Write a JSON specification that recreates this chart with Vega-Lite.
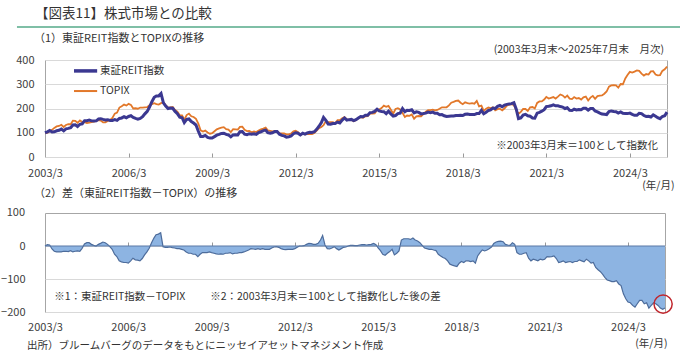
{
  "$schema": "https://vega.github.io/schema/vega-lite/v6.json",
  "background": "white",
  "padding": {"left": 0, "top": 6, "right": 0, "bottom": 0},
  "config": {
    "font": "Noto Sans CJK JP",
    "view": {"stroke": "#a6a6a6"},
    "axis": {"labelFont": "Noto Sans CJK JP", "labelFontSize": 11, "labelColor": "#404040", "titleFont": "Noto Sans CJK JP", "titleFontWeight": "normal", "labelOverlap": false},
    "title": {"font": "Noto Sans CJK JP", "fontWeight": "normal", "color": "#333333"},
    "text": {"font": "Noto Sans CJK JP"}
  },
  "title": {"text": "出所）ブルームバーグのデータをもとにニッセイアセットマネジメント作成", "orient": "bottom", "anchor": "start", "frame": "bounds", "fontSize": 10.5, "offset": -8, "dx": 27, "color": "#333333"},
  "datasets": {
    "idx": [
      {"d":"2003-03","r":100,"t":100,"f":0},{"d":"2003-04","r":104,"t":100,"f":4},{"d":"2003-05","r":109,"t":106,"f":3},{"d":"2003-06","r":103,"t":112,"f":-9},{"d":"2003-07","r":104,"t":120,"f":-16},{"d":"2003-08","r":108,"t":126,"f":-18},{"d":"2003-09","r":110,"t":128,"f":-18},{"d":"2003-10","r":115,"t":133,"f":-18},{"d":"2003-11","r":108,"t":124,"f":-16},{"d":"2003-12","r":116,"t":132,"f":-16},
      {"d":"2004-01","r":118,"t":135,"f":-17},{"d":"2004-02","r":121,"t":135,"f":-14},{"d":"2004-03","r":132,"t":150,"f":-18},{"d":"2004-04","r":133,"t":149,"f":-16},{"d":"2004-05","r":126,"t":141,"f":-15},{"d":"2004-06","r":135,"t":151,"f":-16},{"d":"2004-07","r":137,"t":144,"f":-7},{"d":"2004-08","r":150,"t":144,"f":6},{"d":"2004-09","r":150,"t":140,"f":10},{"d":"2004-10","r":152,"t":142,"f":10},{"d":"2004-11","r":149,"t":144,"f":5},{"d":"2004-12","r":148,"t":146,"f":2},
      {"d":"2005-01","r":149,"t":149,"f":0},{"d":"2005-02","r":157,"t":152,"f":5},{"d":"2005-03","r":158,"t":150,"f":8},{"d":"2005-04","r":155,"t":143,"f":12},{"d":"2005-05","r":153,"t":143,"f":10},{"d":"2005-06","r":154,"t":149,"f":5},{"d":"2005-07","r":151,"t":153,"f":-2},{"d":"2005-08","r":151,"t":161,"f":-10},{"d":"2005-09","r":154,"t":179,"f":-25},{"d":"2005-10","r":151,"t":183,"f":-32},{"d":"2005-11","r":159,"t":204,"f":-45},{"d":"2005-12","r":161,"t":209,"f":-48},
      {"d":"2006-01","r":166,"t":216,"f":-50},{"d":"2006-02","r":162,"t":212,"f":-50},{"d":"2006-03","r":167,"t":219,"f":-52},{"d":"2006-04","r":170,"t":215,"f":-45},{"d":"2006-05","r":163,"t":200,"f":-37},{"d":"2006-06","r":159,"t":201,"f":-42},{"d":"2006-07","r":156,"t":199,"f":-43},{"d":"2006-08","r":159,"t":204,"f":-45},{"d":"2006-09","r":166,"t":204,"f":-38},{"d":"2006-10","r":178,"t":205,"f":-27},{"d":"2006-11","r":188,"t":206,"f":-18},{"d":"2006-12","r":206,"t":213,"f":-7},
      {"d":"2007-01","r":228,"t":218,"f":10},{"d":"2007-02","r":246,"t":222,"f":24},{"d":"2007-03","r":252,"t":218,"f":34},{"d":"2007-04","r":252,"t":216,"f":36},{"d":"2007-05","r":262,"t":222,"f":40},{"d":"2007-06","r":223,"t":225,"f":-2},{"d":"2007-07","r":210,"t":214,"f":-4},{"d":"2007-08","r":200,"t":204,"f":-4},{"d":"2007-09","r":202,"t":205,"f":-3},{"d":"2007-10","r":201,"t":206,"f":-5},{"d":"2007-11","r":188,"t":194,"f":-6},{"d":"2007-12","r":179,"t":187,"f":-8},
      {"d":"2008-01","r":164,"t":172,"f":-8},{"d":"2008-02","r":162,"t":172,"f":-10},{"d":"2008-03","r":142,"t":154,"f":-12},{"d":"2008-04","r":155,"t":173,"f":-18},{"d":"2008-05","r":157,"t":179,"f":-22},{"d":"2008-06","r":146,"t":168,"f":-22},{"d":"2008-07","r":140,"t":165,"f":-25},{"d":"2008-08","r":132,"t":157,"f":-25},{"d":"2008-09","r":106,"t":138,"f":-32},{"d":"2008-10","r":85,"t":110,"f":-25},{"d":"2008-11","r":85,"t":105,"f":-20},{"d":"2008-12","r":89,"t":109,"f":-20},
      {"d":"2009-01","r":81,"t":101,"f":-20},{"d":"2009-02","r":78,"t":96,"f":-18},{"d":"2009-03","r":78,"t":98,"f":-20},{"d":"2009-04","r":84,"t":106,"f":-22},{"d":"2009-05","r":90,"t":114,"f":-24},{"d":"2009-06","r":93,"t":118,"f":-25},{"d":"2009-07","r":97,"t":121,"f":-24},{"d":"2009-08","r":98,"t":123,"f":-25},{"d":"2009-09","r":93,"t":115,"f":-22},{"d":"2009-10","r":91,"t":113,"f":-22},{"d":"2009-11","r":83,"t":103,"f":-20},{"d":"2009-12","r":91,"t":115,"f":-24},
      {"d":"2010-01","r":92,"t":114,"f":-22},{"d":"2010-02","r":91,"t":113,"f":-22},{"d":"2010-03","r":104,"t":124,"f":-20},{"d":"2010-04","r":105,"t":125,"f":-20},{"d":"2010-05","r":94,"t":112,"f":-18},{"d":"2010-06","r":92,"t":107,"f":-15},{"d":"2010-07","r":96,"t":108,"f":-12},{"d":"2010-08","r":94,"t":102,"f":-8},{"d":"2010-09","r":96,"t":105,"f":-9},{"d":"2010-10","r":93,"t":103,"f":-10},{"d":"2010-11","r":101,"t":109,"f":-8},{"d":"2010-12","r":104,"t":114,"f":-10},
      {"d":"2011-01","r":109,"t":117,"f":-8},{"d":"2011-02","r":111,"t":121,"f":-10},{"d":"2011-03","r":100,"t":110,"f":-10},{"d":"2011-04","r":98,"t":108,"f":-10},{"d":"2011-05","r":100,"t":106,"f":-6},{"d":"2011-06","r":105,"t":108,"f":-3},{"d":"2011-07","r":105,"t":107,"f":-2},{"d":"2011-08","r":94,"t":98,"f":-4},{"d":"2011-09","r":89,"t":97,"f":-8},{"d":"2011-10","r":87,"t":97,"f":-10},{"d":"2011-11","r":82,"t":93,"f":-11},{"d":"2011-12","r":83,"t":93,"f":-10},
      {"d":"2012-01","r":87,"t":97,"f":-10},{"d":"2012-02","r":96,"t":106,"f":-10},{"d":"2012-03","r":100,"t":108,"f":-8},{"d":"2012-04","r":98,"t":102,"f":-4},{"d":"2012-05","r":91,"t":91,"f":0},{"d":"2012-06","r":98,"t":98,"f":0},{"d":"2012-07","r":94,"t":93,"f":1},{"d":"2012-08","r":99,"t":94,"f":5},{"d":"2012-09","r":102,"t":94,"f":8},{"d":"2012-10","r":101,"t":94,"f":7},{"d":"2012-11","r":104,"t":99,"f":5},{"d":"2012-12","r":114,"t":109,"f":5},
      {"d":"2013-01","r":127,"t":119,"f":8},{"d":"2013-02","r":142,"t":124,"f":18},{"d":"2013-03","r":163,"t":131,"f":32},{"d":"2013-04","r":151,"t":148,"f":3},{"d":"2013-05","r":136,"t":144,"f":-8},{"d":"2013-06","r":135,"t":144,"f":-9},{"d":"2013-07","r":138,"t":144,"f":-6},{"d":"2013-08","r":138,"t":140,"f":-2},{"d":"2013-09","r":144,"t":152,"f":-8},{"d":"2013-10","r":140,"t":152,"f":-12},{"d":"2013-11","r":152,"t":160,"f":-8},{"d":"2013-12","r":161,"t":165,"f":-4},
      {"d":"2014-01","r":152,"t":155,"f":-3},{"d":"2014-02","r":154,"t":154,"f":0},{"d":"2014-03","r":155,"t":153,"f":2},{"d":"2014-04","r":150,"t":148,"f":2},{"d":"2014-05","r":154,"t":153,"f":1},{"d":"2014-06","r":161,"t":160,"f":1},{"d":"2014-07","r":167,"t":164,"f":3},{"d":"2014-08","r":166,"t":162,"f":4},{"d":"2014-09","r":172,"t":168,"f":4},{"d":"2014-10","r":172,"t":169,"f":3},{"d":"2014-11","r":183,"t":179,"f":4},{"d":"2014-12","r":184,"t":179,"f":5},
      {"d":"2015-01","r":188,"t":180,"f":8},{"d":"2015-02","r":197,"t":193,"f":4},{"d":"2015-03","r":190,"t":196,"f":-6},{"d":"2015-04","r":188,"t":202,"f":-14},{"d":"2015-05","r":187,"t":212,"f":-25},{"d":"2015-06","r":179,"t":207,"f":-28},{"d":"2015-07","r":189,"t":211,"f":-22},{"d":"2015-08","r":178,"t":195,"f":-17},{"d":"2015-09","r":169,"t":179,"f":-10},{"d":"2015-10","r":171,"t":198,"f":-27},{"d":"2015-11","r":179,"t":201,"f":-22},{"d":"2015-12","r":181,"t":196,"f":-15},
      {"d":"2016-01","r":200,"t":182,"f":18},{"d":"2016-02","r":187,"t":165,"f":22},{"d":"2016-03","r":193,"t":171,"f":22},{"d":"2016-04","r":192,"t":170,"f":22},{"d":"2016-05","r":195,"t":175,"f":20},{"d":"2016-06","r":182,"t":158,"f":24},{"d":"2016-07","r":186,"t":168,"f":18},{"d":"2016-08","r":184,"t":169,"f":15},{"d":"2016-09","r":178,"t":168,"f":10},{"d":"2016-10","r":179,"t":177,"f":2},{"d":"2016-11","r":181,"t":187,"f":-6},{"d":"2016-12","r":185,"t":193,"f":-8},
      {"d":"2017-01","r":183,"t":193,"f":-10},{"d":"2017-02","r":185,"t":195,"f":-10},{"d":"2017-03","r":180,"t":192,"f":-12},{"d":"2017-04","r":180,"t":194,"f":-14},{"d":"2017-05","r":174,"t":199,"f":-25},{"d":"2017-06","r":175,"t":205,"f":-30},{"d":"2017-07","r":170,"t":205,"f":-35},{"d":"2017-08","r":167,"t":205,"f":-38},{"d":"2017-09","r":168,"t":213,"f":-45},{"d":"2017-10","r":169,"t":224,"f":-55},{"d":"2017-11","r":169,"t":227,"f":-58},{"d":"2017-12","r":171,"t":231,"f":-60},
      {"d":"2018-01","r":171,"t":233,"f":-62},{"d":"2018-02","r":172,"t":224,"f":-52},{"d":"2018-03","r":171,"t":218,"f":-47},{"d":"2018-04","r":176,"t":226,"f":-50},{"d":"2018-05","r":177,"t":222,"f":-45},{"d":"2018-06","r":175,"t":220,"f":-45},{"d":"2018-07","r":175,"t":222,"f":-47},{"d":"2018-08","r":175,"t":220,"f":-45},{"d":"2018-09","r":179,"t":231,"f":-52},{"d":"2018-10","r":179,"t":209,"f":-30},{"d":"2018-11","r":192,"t":212,"f":-20},{"d":"2018-12","r":178,"t":190,"f":-12},
      {"d":"2019-01","r":184,"t":199,"f":-15},{"d":"2019-02","r":192,"t":204,"f":-12},{"d":"2019-03","r":194,"t":202,"f":-8},{"d":"2019-04","r":202,"t":205,"f":-3},{"d":"2019-05","r":200,"t":192,"f":8},{"d":"2019-06","r":209,"t":197,"f":12},{"d":"2019-07","r":213,"t":199,"f":14},{"d":"2019-08","r":207,"t":192,"f":15},{"d":"2019-09","r":214,"t":201,"f":13},{"d":"2019-10","r":217,"t":212,"f":5},{"d":"2019-11","r":219,"t":216,"f":3},{"d":"2019-12","r":220,"t":218,"f":2},
      {"d":"2020-01","r":224,"t":214,"f":10},{"d":"2020-02","r":197,"t":192,"f":5},{"d":"2020-03","r":158,"t":178,"f":-20},{"d":"2020-04","r":161,"t":186,"f":-25},{"d":"2020-05","r":173,"t":198,"f":-25},{"d":"2020-06","r":176,"t":198,"f":-22},{"d":"2020-07","r":170,"t":190,"f":-20},{"d":"2020-08","r":168,"t":205,"f":-37},{"d":"2020-09","r":161,"t":206,"f":-45},{"d":"2020-10","r":160,"t":200,"f":-40},{"d":"2020-11","r":181,"t":223,"f":-42},{"d":"2020-12","r":184,"t":229,"f":-45},
      {"d":"2021-01","r":189,"t":229,"f":-40},{"d":"2021-02","r":195,"t":237,"f":-42},{"d":"2021-03","r":208,"t":248,"f":-40},{"d":"2021-04","r":209,"t":241,"f":-32},{"d":"2021-05","r":211,"t":244,"f":-33},{"d":"2021-06","r":215,"t":247,"f":-32},{"d":"2021-07","r":211,"t":241,"f":-30},{"d":"2021-08","r":211,"t":249,"f":-38},{"d":"2021-09","r":208,"t":258,"f":-50},{"d":"2021-10","r":206,"t":254,"f":-48},{"d":"2021-11","r":200,"t":245,"f":-45},{"d":"2021-12","r":203,"t":253,"f":-50},
      {"d":"2022-01","r":193,"t":241,"f":-48},{"d":"2022-02","r":192,"t":239,"f":-47},{"d":"2022-03","r":197,"t":247,"f":-50},{"d":"2022-04","r":194,"t":241,"f":-47},{"d":"2022-05","r":196,"t":243,"f":-47},{"d":"2022-06","r":195,"t":237,"f":-42},{"d":"2022-07","r":201,"t":246,"f":-45},{"d":"2022-08","r":201,"t":249,"f":-48},{"d":"2022-09","r":193,"t":233,"f":-40},{"d":"2022-10","r":200,"t":245,"f":-45},{"d":"2022-11","r":200,"t":252,"f":-52},{"d":"2022-12","r":190,"t":240,"f":-50},
      {"d":"2023-01","r":186,"t":251,"f":-65},{"d":"2023-02","r":181,"t":253,"f":-72},{"d":"2023-03","r":177,"t":254,"f":-77},{"d":"2023-04","r":176,"t":261,"f":-85},{"d":"2023-05","r":175,"t":270,"f":-95},{"d":"2023-06","r":187,"t":290,"f":-103},{"d":"2023-07","r":190,"t":295,"f":-105},{"d":"2023-08","r":188,"t":296,"f":-108},{"d":"2023-09","r":187,"t":295,"f":-108},{"d":"2023-10","r":181,"t":286,"f":-105},{"d":"2023-11","r":186,"t":301,"f":-115},{"d":"2023-12","r":180,"t":300,"f":-120},
      {"d":"2024-01","r":179,"t":324,"f":-145},{"d":"2024-02","r":179,"t":339,"f":-160},{"d":"2024-03","r":181,"t":351,"f":-170},{"d":"2024-04","r":176,"t":348,"f":-172},{"d":"2024-05","r":172,"t":352,"f":-180},{"d":"2024-06","r":172,"t":357,"f":-185},{"d":"2024-07","r":180,"t":355,"f":-175},{"d":"2024-08","r":179,"t":344,"f":-165},{"d":"2024-09","r":171,"t":336,"f":-165},{"d":"2024-10","r":167,"t":342,"f":-175},{"d":"2024-11","r":168,"t":340,"f":-172},{"d":"2024-12","r":165,"t":353,"f":-188},
      {"d":"2025-01","r":174,"t":354,"f":-180},{"d":"2025-02","r":168,"t":340,"f":-172},{"d":"2025-03","r":162,"t":337,"f":-175},{"d":"2025-04","r":158,"t":338,"f":-180},{"d":"2025-05","r":167,"t":355,"f":-188},{"d":"2025-06","r":170,"t":362,"f":-192},{"d":"2025-07","r":185,"t":373,"f":-188}
    ]
  },
  "spacing": -4,
  "vconcat": [
    {
      "width": 637,
      "height": 9,
      "data": {"values": [{}]},
      "view": {"stroke": null},
      "title": {"text": "【図表11】株式市場との比較", "anchor": "start", "frame": "group", "fontSize": 13.5, "dx": -10, "offset": 6, "color": "#333333"},
      "mark": {"type": "rule", "color": "#7fbfa6", "strokeWidth": 2, "clip": false},
      "encoding": {
        "x": {"datum": -0.044, "type": "quantitative", "scale": {"domain": [0, 1]}, "axis": null},
        "x2": {"datum": 1},
        "y": {"datum": 1, "type": "quantitative", "scale": {"domain": [0, 1]}, "axis": null}
      }
    },
    {
      "width": 622,
      "height": 97,
      "title": {"text": "（1）東証REIT指数とTOPIXの推移", "anchor": "start", "frame": "group", "fontSize": 11, "dx": -11, "offset": 1, "color": "#333333"},
      "layer": [
        {
          "data": {"name": "idx"},
          "transform": [{"fold": ["t", "r"], "as": ["s", "v"]}],
          "mark": {"type": "line"},
          "encoding": {
            "x": {"field": "d", "type": "temporal",
              "scale": {"type": "utc", "domain": [{"year": 2003, "month": 3, "date": 1, "utc": true}, {"year": 2025, "month": 7, "date": 1, "utc": true}]},
              "axis": {"orient": "bottom", "values": [{"year": 2003, "month": 3, "date": 1, "utc": true}, {"year": 2006, "month": 3, "date": 1, "utc": true}, {"year": 2009, "month": 3, "date": 1, "utc": true}, {"year": 2012, "month": 3, "date": 1, "utc": true}, {"year": 2015, "month": 3, "date": 1, "utc": true}, {"year": 2018, "month": 3, "date": 1, "utc": true}, {"year": 2021, "month": 3, "date": 1, "utc": true}, {"year": 2024, "month": 3, "date": 1, "utc": true}],
                "tickCount": 20, "labelExpr": "utcFormat(datum.value, '%Y') + '/' + (utcmonth(datum.value) + 1)", "ticks": false, "grid": false, "domain": false, "labelPadding": 10, "labelFlush": false, "labelOverlap": false,
                "title": "(年/月)", "titleFontSize": 10.5, "titleColor": "#333333", "titleAlign": "right", "titleX": 629, "titleY": 28, "titleBaseline": "middle"}},
            "y": {"field": "v", "type": "quantitative", "scale": {"domain": [0, 400], "nice": false},
              "axis": {"values": [0, 100, 200, 300, 400], "tickCount": 10, "grid": true, "gridColor": "#d9d9d9", "domain": false, "ticks": false, "labelPadding": 11, "labelOverlap": false, "title": null, "minExtent": 43, "maxExtent": 43}},
            "color": {"field": "s", "type": "nominal", "scale": {"domain": ["r", "t"], "range": ["#3b3891", "#e2782a"]}, "legend": null},
            "strokeWidth": {"field": "s", "type": "nominal", "scale": {"domain": ["r", "t"], "range": [3, 1.8]}, "legend": null}
          }
        },
        {
          "data": {"values": [{}]},
          "mark": {"type": "rule", "color": "#3b3891", "strokeWidth": 3.5},
          "encoding": {
            "x": {"datum": {"year": 2004, "month": 3, "date": 15, "utc": true}, "type": "temporal", "axis": null},
            "x2": {"datum": {"year": 2005, "month": 1, "date": 13, "utc": true}},
            "y": {"datum": 355, "type": "quantitative", "axis": {"title": null}}
          }
        },
        {
          "data": {"values": [{}]},
          "mark": {"type": "rule", "color": "#e2782a", "strokeWidth": 2},
          "encoding": {
            "x": {"datum": {"year": 2004, "month": 3, "date": 15, "utc": true}, "type": "temporal", "axis": null},
            "x2": {"datum": {"year": 2005, "month": 1, "date": 13, "utc": true}},
            "y": {"datum": 272, "type": "quantitative", "axis": {"title": null}}
          }
        },
        {
          "data": {"values": [{}]},
          "mark": {"type": "text", "align": "left", "baseline": "middle", "fontSize": 10.5, "color": "#333333"},
          "encoding": {
            "x": {"datum": {"year": 2005, "month": 2, "date": 20, "utc": true}, "type": "temporal", "axis": null},
            "y": {"datum": 355, "type": "quantitative", "axis": {"title": null}},
            "text": {"value": "東証REIT指数"}
          }
        },
        {
          "data": {"values": [{}]},
          "mark": {"type": "text", "align": "left", "baseline": "middle", "fontSize": 10.5, "color": "#333333"},
          "encoding": {
            "x": {"datum": {"year": 2005, "month": 2, "date": 20, "utc": true}, "type": "temporal", "axis": null},
            "y": {"datum": 272, "type": "quantitative", "axis": {"title": null}},
            "text": {"value": "TOPIX"}
          }
        },
        {
          "data": {"values": [{}]},
          "mark": {"type": "text", "align": "right", "baseline": "middle", "dx": -9, "fontSize": 10.5, "color": "#333333"},
          "encoding": {
            "x": {"datum": {"year": 2025, "month": 7, "date": 1, "utc": true}, "type": "temporal",
              "axis": {"orient": "top", "offset": -97, "values": [{"year": 2006, "month": 3, "date": 1, "utc": true}, {"year": 2009, "month": 3, "date": 1, "utc": true}, {"year": 2012, "month": 3, "date": 1, "utc": true}, {"year": 2015, "month": 3, "date": 1, "utc": true}, {"year": 2018, "month": 3, "date": 1, "utc": true}, {"year": 2021, "month": 3, "date": 1, "utc": true}, {"year": 2024, "month": 3, "date": 1, "utc": true}],
                "tickCount": 20, "labels": false, "ticks": true, "tickSize": 4, "tickColor": "#999999", "domain": false, "grid": false, "title": null, "minExtent": 0, "maxExtent": 0}},
            "y": {"datum": 45, "type": "quantitative", "axis": {"title": null}},
            "text": {"value": "※2003年3月末＝100として指数化"}
          }
        },
        {
          "data": {"values": [{}]},
          "mark": {"type": "text", "align": "right", "baseline": "middle", "dx": -3, "dy": -10, "fontSize": 10.5, "color": "#333333"},
          "encoding": {
            "x": {"datum": {"year": 2025, "month": 7, "date": 1, "utc": true}, "type": "temporal", "axis": null},
            "y": {"datum": 400, "type": "quantitative", "axis": {"title": null}},
            "text": {"value": "(2003年3月末～2025年7月末　月次)"}
          }
        }
      ],
      "resolve": {"axis": {"x": "independent"}}
    },
    {
      "width": 620,
      "height": 99,
      "title": {"text": "（2）差（東証REIT指数－TOPIX）の推移", "anchor": "start", "frame": "group", "fontSize": 11, "dx": -11, "offset": 8, "color": "#333333"},
      "layer": [
        {
          "data": {"name": "idx"},
          "mark": {"type": "area", "color": "#8db4e2", "opacity": 1, "line": {"color": "#4d6c9b", "strokeWidth": 1.2}},
          "encoding": {
            "x": {"field": "d", "type": "temporal",
              "scale": {"type": "utc", "domain": [{"year": 2003, "month": 3, "date": 1, "utc": true}, {"year": 2025, "month": 7, "date": 1, "utc": true}]},
              "axis": {"orient": "bottom", "values": [{"year": 2003, "month": 3, "date": 1, "utc": true}, {"year": 2006, "month": 3, "date": 1, "utc": true}, {"year": 2009, "month": 3, "date": 1, "utc": true}, {"year": 2012, "month": 3, "date": 1, "utc": true}, {"year": 2015, "month": 3, "date": 1, "utc": true}, {"year": 2018, "month": 3, "date": 1, "utc": true}, {"year": 2021, "month": 3, "date": 1, "utc": true}, {"year": 2024, "month": 3, "date": 1, "utc": true}],
                "tickCount": 20, "labelExpr": "utcFormat(datum.value, '%Y') + '/' + (utcmonth(datum.value) + 1)", "ticks": false, "grid": false, "domain": false, "labelPadding": 9, "labelFlush": false, "labelOverlap": false,
                "title": "(年/月)", "titleFontSize": 10.5, "titleColor": "#333333", "titleAlign": "right", "titleX": 622, "titleY": 31, "titleBaseline": "middle"}},
            "y": {"field": "f", "type": "quantitative", "scale": {"domain": [-200, 100], "nice": false, "zero": false},
              "axis": {"values": [-200, -100, 0], "tickCount": 10, "grid": true, "gridColor": "#d9d9d9", "domain": false, "ticks": false, "labelPadding": 20, "labelOverlap": false, "labelBound": false, "labelFlush": false, "title": null, "minExtent": 43, "maxExtent": 43}}
          }
        },
        {
          "data": {"values": [{}]},
          "mark": {"type": "text", "align": "right", "baseline": "middle", "dx": -20, "fontSize": 11, "color": "#404040"},
          "encoding": {
            "x": {"datum": {"year": 2003, "month": 3, "date": 1, "utc": true}, "type": "temporal", "axis": null},
            "y": {"datum": 100, "type": "quantitative", "axis": {"title": null}},
            "text": {"value": "100"}
          }
        },
        {
          "data": {"values": [{}]},
          "mark": {"type": "rule", "color": "#5a78a6", "strokeWidth": 1.2},
          "encoding": {
            "y": {"datum": 0, "type": "quantitative", "axis": {"title": null}}
          }
        },
        {
          "data": {"values": [{}]},
          "mark": {"type": "text", "align": "left", "baseline": "middle", "fontSize": 10.5, "color": "#333333"},
          "encoding": {
            "x": {"datum": {"year": 2003, "month": 7, "date": 1, "utc": true}, "type": "temporal",
              "axis": {"orient": "top", "offset": -33, "values": [{"year": 2006, "month": 3, "date": 1, "utc": true}, {"year": 2009, "month": 3, "date": 1, "utc": true}, {"year": 2012, "month": 3, "date": 1, "utc": true}, {"year": 2015, "month": 3, "date": 1, "utc": true}, {"year": 2018, "month": 3, "date": 1, "utc": true}, {"year": 2021, "month": 3, "date": 1, "utc": true}, {"year": 2024, "month": 3, "date": 1, "utc": true}],
                "tickCount": 20, "labels": false, "ticks": true, "tickSize": 4, "tickColor": "#999999", "domain": false, "grid": false, "title": null, "minExtent": 0, "maxExtent": 0}},
            "y": {"datum": -155, "type": "quantitative", "axis": {"title": null}},
            "text": {"value": "※1：東証REIT指数－TOPIX"}
          }
        },
        {
          "data": {"values": [{}]},
          "mark": {"type": "text", "align": "left", "baseline": "middle", "fontSize": 10.5, "color": "#333333"},
          "encoding": {
            "x": {"datum": {"year": 2009, "month": 2, "date": 10, "utc": true}, "type": "temporal", "axis": null},
            "y": {"datum": -155, "type": "quantitative", "axis": {"title": null}},
            "text": {"value": "※2：2003年3月末＝100として指数化した後の差"}
          }
        },
        {
          "data": {"values": [{}]},
          "mark": {"type": "point", "shape": "circle", "filled": false, "size": 330, "color": "#c0262d", "strokeWidth": 1.5, "opacity": 1},
          "encoding": {
            "x": {"datum": {"year": 2025, "month": 6, "date": 6, "utc": true}, "type": "temporal", "axis": null},
            "y": {"datum": -176, "type": "quantitative", "axis": {"title": null}}
          }
        }
      ],
      "resolve": {"axis": {"x": "independent"}}
    }
  ]
}
